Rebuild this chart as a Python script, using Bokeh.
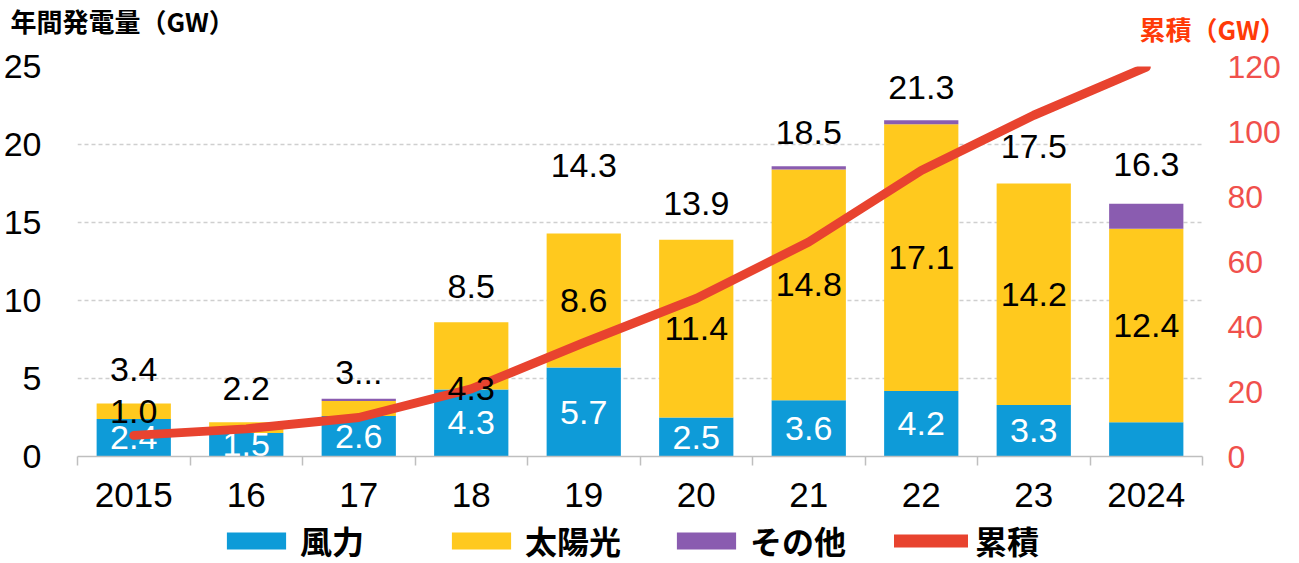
import numpy as np
from bokeh.plotting import figure
from bokeh.layouts import column
from bokeh.models import (ColumnDataSource, Range1d, LinearAxis, FixedTicker,
                          Label, Legend, LegendItem)
from bokeh.core.properties import value
from bokeh.embed import file_html
from bokeh.resources import INLINE

# ---------------- data ----------------
years = ["2015", "16", "17", "18", "19", "20", "21", "22", "23", "2024"]
wind = [2.4, 1.5, 2.6, 4.3, 5.7, 2.5, 3.6, 4.2, 3.3, 2.2]
solar = [1.0, 0.7, 0.95, 4.3, 8.6, 11.4, 14.8, 17.1, 14.2, 12.4]
other = [0.0, 0.0, 0.15, 0.0, 0.0, 0.0, 0.2, 0.25, 0.0, 1.6]
total_labels = ["3.4", "2.2", "3...", "8.5", "14.3", "13.9", "18.5", "21.3", "17.5", "16.3"]
wind_labels = ["2.4", "1.5", "2.6", "4.3", "5.7", "2.5", "3.6", "4.2", "3.3", ""]
solar_labels = ["1.0", "", "", "4.3", "8.6", "11.4", "14.8", "17.1", "14.2", "12.4"]
cumulative = [6.5, 8.5, 12.0, 20.8, 35.0, 48.6, 66.0, 88.0, 105.0, 119.8]
left_ticks = [0, 5, 10, 15, 20, 25]
right_ticks = [0, 20, 40, 60, 80, 100, 120]
series_names = ["風力", "太陽光", "その他", "累積"]

# ---------------- style ----------------
C_WIND = "#0E9BD8"
C_SOLAR = "#FFC91E"
C_OTHER = "#8A5CB0"
C_LINE = "#E8432F"
C_RIGHT = "#F0504C"
C_CUMTITLE = "#FF3A08"
NUM_FONT = "Liberation Sans"
CJK_FONT = "Noto Sans CJK JP"
solar_label_dy = [0, 0, 0, 33, 0, 0, 0, 0, 0, 0]      # px, downward
total_label_dy = [-34, -34, -26, -36, -68, -36, -34, -33, -37, -39]  # px

W = 1283
H_TOP, H_MAIN, H_BOT = 44, 470, 49

n = len(years)
xc = np.arange(n) + 0.5
wind_a = np.array(wind)
solar_a = np.array(solar)
other_a = np.array(other)
top = wind_a + solar_a + other_a

src = ColumnDataSource(dict(x=xc, wind=wind_a, solar=solar_a, other=other_a))


def no_align(f):
    try:
        f.frame_align = False
    except Exception:
        pass


def blank_fig(h):
    f = figure(width=W, height=h, x_range=Range1d(0, 1), y_range=Range1d(0, 1),
               output_backend="svg", toolbar_location=None,
               x_axis_location=None, y_axis_location=None,
               min_border=0, outline_line_color=None)
    f.grid.grid_line_color = None
    no_align(f)
    return f


# ---------------- title strip ----------------
ptop = blank_fig(H_TOP)
ptop.add_layout(Label(x=10, y=24, x_units="screen", y_units="screen",
                      text="年間発電量（GW）", text_font=CJK_FONT,
                      text_font_style="bold", text_font_size="26px",
                      text_color="black", text_baseline="middle", text_align="left"))
ptop.add_layout(Label(x=1139, y=16, x_units="screen", y_units="screen",
                      text="累積（GW）", text_font=CJK_FONT,
                      text_font_style="bold", text_font_size="26px",
                      text_color=C_CUMTITLE, text_baseline="middle", text_align="left"))

# ---------------- main chart ----------------
p = figure(width=W, height=H_MAIN, x_range=Range1d(0, n), y_range=Range1d(0, 25),
           output_backend="svg", toolbar_location=None,
           min_border_left=74, min_border_right=70, min_border_top=22,
           min_border_bottom=58, outline_line_color=None)
no_align(p)

p.xgrid.grid_line_color = None
p.ygrid.ticker = FixedTicker(ticks=left_ticks[1:])
p.ygrid.grid_line_color = "#cfcfcf"
p.ygrid.grid_line_dash = "4 3"
p.ygrid.grid_line_width = 1.5

xa = p.xaxis[0]
xa.ticker = FixedTicker(ticks=list(xc), minor_ticks=list(range(n + 1)))
xa.major_label_overrides = {float(x): y for x, y in zip(xc, years)}
xa.axis_line_color = "#bfbfbf"
xa.axis_line_width = 1.5
xa.major_tick_line_color = None
xa.major_tick_out = 0
xa.major_tick_in = 0
xa.minor_tick_in = 0
xa.minor_tick_out = 9
xa.minor_tick_line_color = "#bfbfbf"
xa.minor_tick_line_width = 1.5
xa.major_label_standoff = 17
xa.major_label_text_font = NUM_FONT
xa.major_label_text_font_size = "35px"
xa.major_label_text_color = "black"

ya = p.yaxis[0]
ya.ticker = FixedTicker(ticks=left_ticks)
ya.axis_line_color = None
ya.major_tick_line_color = None
ya.major_tick_out = 0
ya.major_tick_in = 0
ya.minor_tick_line_color = None
ya.major_label_standoff = 36
ya.major_label_text_font = NUM_FONT
ya.major_label_text_font_size = "34px"
ya.major_label_text_color = "black"

p.extra_y_ranges = {"cum": Range1d(0, 120)}
ra = LinearAxis(y_range_name="cum", ticker=FixedTicker(ticks=right_ticks))
ra.axis_line_color = None
ra.major_tick_line_color = None
ra.major_tick_out = 0
ra.major_tick_in = 0
ra.minor_tick_line_color = None
ra.major_label_standoff = 25
ra.major_label_text_font = NUM_FONT
ra.major_label_text_font_size = "32px"
ra.major_label_text_color = C_RIGHT
p.add_layout(ra, "right")

bars = p.vbar_stack(["wind", "solar", "other"], x="x", width=0.66, source=src,
                    fill_color=[C_WIND, C_SOLAR, C_OTHER], line_color=None)

p.text(x=xc, y=wind_a / 2, text=wind_labels, text_align="center",
       text_baseline="middle", text_color="white",
       text_font=value(NUM_FONT), text_font_size=value("34px"))

p.line(x=xc, y=cumulative, y_range_name="cum", line_width=9,
       line_color=C_LINE, line_cap="round", line_join="round")

p.text(x=xc, y=wind_a + solar_a / 2, text=solar_labels, text_align="center",
       text_baseline="middle", text_color="black", y_offset=solar_label_dy,
       text_font=value(NUM_FONT), text_font_size=value("34px"))

p.text(x=xc, y=top, text=total_labels, text_align="center",
       text_baseline="middle", text_color="black", y_offset=total_label_dy,
       text_font=value(NUM_FONT), text_font_size=value("34px"))

# ---------------- legend strip ----------------
# legend proxies with NaN geometry (nothing is drawn in the strip itself)
nan = float("nan")
pbot = blank_fig(H_BOT)
r_w = pbot.vbar(x=[nan], bottom=[nan], top=[nan], width=0.1, fill_color=C_WIND, line_color=None)
r_s = pbot.vbar(x=[nan], bottom=[nan], top=[nan], width=0.1, fill_color=C_SOLAR, line_color=None)
r_o = pbot.vbar(x=[nan], bottom=[nan], top=[nan], width=0.1, fill_color=C_OTHER, line_color=None)
r_l = pbot.line(x=[nan, nan], y=[nan, nan], line_width=13, line_color=C_LINE, line_cap="round")
legend = Legend(items=[LegendItem(label=lab, renderers=[r])
                       for lab, r in zip(series_names, [r_w, r_s, r_o, r_l])],
                orientation="horizontal", location=(219, 0),
                glyph_width=74, glyph_height=21, label_standoff=7,
                label_width=144, spacing=0, padding=0, margin=0,
                border_line_color=None, background_fill_alpha=0,
                label_text_font=CJK_FONT, label_text_font_style="bold",
                label_text_font_size="32px", label_text_color="black")
pbot.add_layout(legend, "center")

layout = column(ptop, p, pbot, spacing=0)
open("out.html", "w").write(file_html(layout, INLINE))
